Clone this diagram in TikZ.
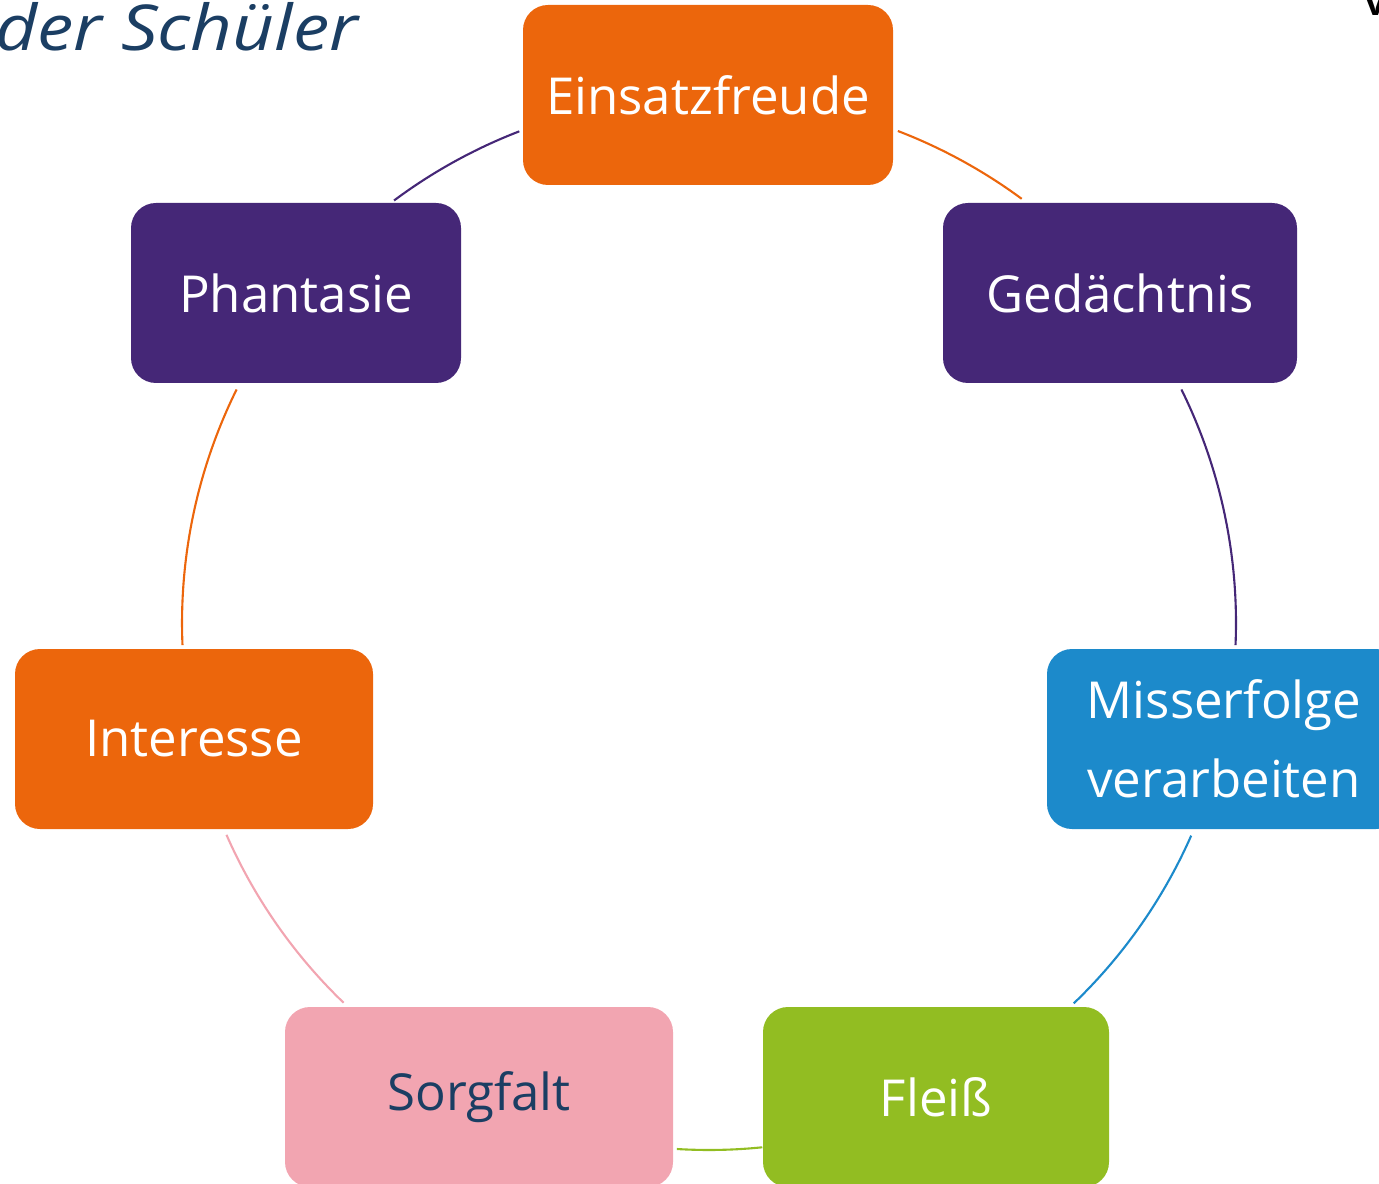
\documentclass[tikz,border=0pt]{standalone}
\usepackage{fontspec}
\setmainfont{Open Sans}
\begin{document}
\begin{tikzpicture}
\definecolor{corange}{HTML}{EC660C}
\definecolor{cpurple}{HTML}{452777}
\definecolor{cblue}{HTML}{1C8ACB}
\definecolor{cgreen}{HTML}{92BD22}
\definecolor{cpink}{HTML}{F2A5B1}
\definecolor{cdark}{HTML}{1B3E63}
\tikzset{
  box/.style={rounded corners=0.5cm, minimum height=3.6cm, inner sep=0pt, align=center,
    font=\fontsize{29}{45}\selectfont, text=white},
  conn/.style={line width=1.2pt}
}
\useasboundingbox (0,0) rectangle (27.58,23.66);
\clip (0,0) rectangle (27.58,23.66);
\coordinate (c) at (14.18,11.2);
\node[box, fill=corange, minimum width=7.4cm] (einsatz) at (14.16,21.76) {Einsatzfreude};
\node[box, fill=cpurple, minimum width=7.08cm] (ged) at (22.4,17.8) {Gedächtnis};
\node[box, fill=cblue, minimum width=7.08cm] (miss) at (24.48,8.88) {Misserfolge\\verarbeiten};
\node[box, fill=cgreen, minimum width=6.92cm] (fleiss) at (18.72,1.72) {Fleiß};
\node[box, fill=cpink, minimum width=7.76cm, text=cdark] (sorg) at (9.58,1.72) {Sorgfalt};
\node[box, fill=corange, minimum width=7.16cm] (inter) at (3.88,8.88) {Interesse};
\node[box, fill=cpurple, minimum width=6.6cm] (phant) at (5.92,17.8) {Phantasie};
\def\R{10.54}
\draw[conn, corange] ([shift={(69:\R)}]c) arc[start angle=69, end angle=53.6, radius=\R];
\draw[conn, cpurple] ([shift={(26.3:\R)}]c) arc[start angle=26.3, end angle=-2.4, radius=\R];
\draw[conn, cblue] ([shift={(-23.8:\R)}]c) arc[start angle=-23.8, end angle=-46.2, radius=\R];
\draw[conn, cgreen] ([shift={(-84.2:\R)}]c) arc[start angle=-84.2, end angle=-93.5, radius=\R];
\draw[conn, cpink] ([shift={(-133.9:\R)}]c) arc[start angle=-133.9, end angle=-156.3, radius=\R];
\draw[conn, corange] ([shift={(182.4:\R)}]c) arc[start angle=182.4, end angle=153.7, radius=\R];
\draw[conn, cpurple] ([shift={(126.7:\R)}]c) arc[start angle=126.7, end angle=111.1, radius=\R];
\node[anchor=base west, inner sep=0pt, text=cdark, font=\fontsize{36}{42}\itshape, xscale=1.15] (title) at (-0.1,22.64) {der Schüler};
\node[anchor=base west, inner sep=0pt, font=\fontsize{20}{24}\bfseries] (v) at (27.3,23.35) {v};
\end{tikzpicture}
\end{document}
